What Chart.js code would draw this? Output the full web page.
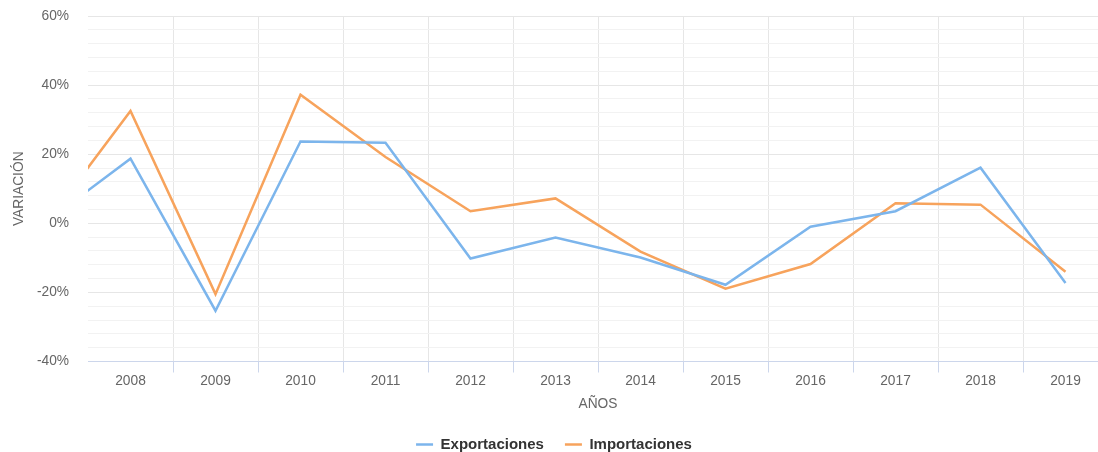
<!DOCTYPE html>
<html>
<head>
<meta charset="utf-8">
<script src="https://cdn.jsdelivr.net/npm/chart.js@4/dist/chart.umd.min.js"></script>
<style>
    html, body {
        margin: 0;
        padding: 0;
        background: #ffffff;
        overflow: hidden;
    }
    #contenedor {
        width: 1122px;
        height: 462px;
    }
</style>
</head>
<body>
<div id="contenedor">
    <canvas id="grafica"></canvas>
</div>
<script>
// años (2007 queda fuera del area, solo se ve el tramo que entra)
let anios = ['2007', '2008', '2009', '2010', '2011', '2012', '2013', '2014', '2015', '2016', '2017', '2018', '2019'];
let exportaciones = [0.3, 18.7, -25.3, 23.7, 23.3, -10.2, -4.1, -9.9, -17.8, -1.0, 3.5, 16.1, -17.3];
let importaciones = [-0.3, 32.5, -20.5, 37.2, 19.2, 3.5, 7.2, -8.2, -18.9, -11.8, 5.8, 5.4, -14.0];
let marcasY = [-40, -20, 0, 20, 40, 60];

function muestraGrafica() {
    const ctx = document.getElementById('grafica');
    const fuente = "'Liberation Sans', Arial, sans-serif";

    new Chart(ctx, {
        type: 'line',
        data: {
            labels: anios,
            datasets: [{
                label: 'Exportaciones',
                data: exportaciones,
                borderColor: '#7cb5ec',
                backgroundColor: '#7cb5ec',
                borderWidth: 2.5,
                pointRadius: 0,
                tension: 0
            }, {
                label: 'Importaciones',
                data: importaciones,
                borderColor: '#f7a35c',
                backgroundColor: '#f7a35c',
                borderWidth: 2.5,
                pointRadius: 0,
                tension: 0
            }]
        },
        options: {
            responsive: true,
            maintainAspectRatio: false,
            animation: false,
            layout: {
                padding: { top: 16, right: 14, bottom: 0, left: 0 }
            },
            plugins: {
                legend: {
                    position: 'bottom',
                    labels: {
                        usePointStyle: true,
                        pointStyle: 'line',
                        pointStyleWidth: 17,
                        padding: 21,
                        color: '#333333',
                        font: { family: fuente, size: 15, weight: 'bold' }
                    }
                },
                tooltip: { enabled: false }
            },
            scales: {
                x: {
                    min: '2008',
                    offset: true,
                    grid: {
                        offset: true,
                        tickLength: 11,
                        color: function (c) {
                            return c.index === 0 ? 'rgba(0,0,0,0)' : '#e6e6e6';
                        },
                        tickColor: function (c) {
                            return c.index === 0 ? 'rgba(0,0,0,0)' : '#ccd6eb';
                        }
                    },
                    border: { color: '#ccd6eb' },
                    ticks: {
                        color: '#666666',
                        padding: 0,
                        maxRotation: 0,
                        font: { family: fuente, size: 13.75 }
                    },
                    title: {
                        display: true,
                        text: 'AÑOS',
                        color: '#666666',
                        padding: { top: 7, bottom: 3.5 },
                        font: { family: fuente, size: 13.75 }
                    }
                },
                y: {
                    min: -40,
                    max: 60,
                    afterFit: function (scale) {
                        scale.width = 88;
                    },
                    grid: {
                        tickLength: 19, // hueco entre etiqueta y area (marca invisible)
                        tickColor: 'rgba(0,0,0,0)',
                        color: function (c) {
                            return marcasY.includes(c.tick.value) ? '#e6e6e6' : '#f2f2f2';
                        }
                    },
                    border: { display: false },
                    ticks: {
                        stepSize: 4,
                        autoSkip: false,
                        padding: 0,
                        color: '#666666',
                        font: { family: fuente, size: 13.75 },
                        callback: function (valor) {
                            return marcasY.includes(valor) ? valor + '%' : '';
                        }
                    },
                    title: {
                        display: true,
                        text: 'VARIACIÓN',
                        color: '#666666',
                        padding: { top: 11, bottom: 0 },
                        font: { family: fuente, size: 13.75 }
                    }
                }
            }
        }
    });
}

window.onload = function () {
    muestraGrafica();
};
</script>
</body>
</html>
